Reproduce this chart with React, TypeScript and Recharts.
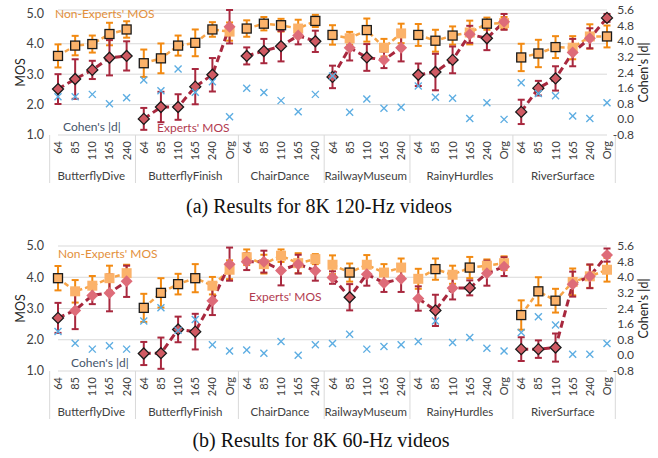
import { ComposedChart, Line, Scatter, ErrorBar, XAxis, YAxis, CartesianGrid } from 'recharts'

const GROUPS = ['ButterflyDive', 'ButterflyFinish', 'ChairDance', 'RailwayMuseum', 'RainyHurdles', 'RiverSurface']
const LEVELS = [
  ['64', '85', '110', '165', '240'],
  ['64', '85', '110', '165', '240', 'Org'],
  ['64', '85', '110', '165', '240'],
  ['64', '85', '110', '165', '240'],
  ['64', '85', '110', '165', '240', 'Org'],
  ['64', '85', '110', '165', '240', 'Org'],
]
const MOS_TICKS = [1, 2, 3, 4, 5]
const D_TICKS = [-0.8, 0, 0.8, 1.6, 2.4, 3.2, 4.0, 4.8, 5.6]

// 8K 120-Hz
const NE_120 = [3.60, 3.94, 3.99, 4.32, 4.47, 3.36, 3.52, 3.94, 4.03, 4.47, 4.40, 4.50, 4.66, 4.61, 4.50, 4.75, 4.29, 4.18, 4.45, 3.87, 4.34, 4.29, 4.10, 4.27, 4.37, 4.66, 4.68, 3.55, 3.68, 3.89, 3.87, 4.24, 4.24]
const NE_ERR_120 = [0.38, 0.32, 0.28, 0.37, 0.27, 0.45, 0.49, 0.33, 0.44, 0.24, 0.30, 0.27, 0.22, 0.21, 0.29, 0.20, 0.32, 0.21, 0.38, 0.29, 0.32, 0.36, 0.36, 0.30, 0.39, 0.20, 0.20, 0.45, 0.45, 0.36, 0.38, 0.40, 0.36]
const EX_120 = [2.51, 2.84, 3.14, 3.54, 3.60, 1.53, 1.92, 1.92, 2.59, 2.98, 4.56, 3.60, 3.76, 3.92, 4.27, 4.08, 2.91, 3.87, 3.55, 3.47, 3.87, 2.98, 3.07, 3.47, 4.31, 4.18, 4.72, 1.76, 2.54, 2.86, 3.71, 4.18, 4.85]
const EX_ERR_120 = [0.49, 0.65, 0.30, 0.58, 0.48, 0.36, 0.50, 0.42, 0.58, 0.55, 0.55, 0.28, 0.40, 0.50, 0.29, 0.35, 0.37, 0.42, 0.44, 0.27, 0.45, 0.37, 0.60, 0.44, 0.28, 0.39, 0.26, 0.40, 0.24, 0.40, 0.45, 0.33, 0.13]
const D_120 = [1.16, 1.16, 1.28, 0.80, 1.11, 2.02, 1.47, 2.58, 1.39, 1.93, 0.14, 1.59, 1.37, 0.96, 0.39, 1.28, 2.22, 0.36, 1.04, 0.57, 0.62, 1.71, 1.13, 1.08, 0.05, 0.85, 0.00, 1.88, 1.33, 1.21, 0.17, 0.05, 0.85]
const SIG_120 = [1, 1, 1, 1, 1, 1, 1, 1, 1, 1, 0, 1, 1, 1, 0, 1, 1, 0, 1, 0, 0, 1, 1, 1, 0, 1, 0, 1, 1, 1, 0, 0, 1]

// 8K 60-Hz
const NE_60 = [3.97, 3.55, 3.73, 3.97, 4.13, 3.02, 3.50, 3.78, 3.97, 3.73, 4.24, 4.64, 4.42, 4.69, 4.45, 4.58, 4.40, 4.15, 4.40, 4.15, 4.31, 3.95, 4.26, 4.08, 4.31, 4.37, 4.45, 2.79, 3.55, 3.25, 3.85, 4.03, 4.24]
const NE_ERR_60 = [0.39, 0.36, 0.31, 0.40, 0.27, 0.45, 0.47, 0.33, 0.45, 0.28, 0.30, 0.25, 0.30, 0.20, 0.32, 0.16, 0.30, 0.29, 0.31, 0.27, 0.29, 0.32, 0.34, 0.29, 0.34, 0.20, 0.22, 0.47, 0.45, 0.38, 0.43, 0.37, 0.38]
const EX_60 = [2.70, 2.94, 3.42, 3.50, 3.87, 1.56, 1.57, 2.33, 2.26, 3.25, 4.42, 4.50, 4.50, 4.22, 4.42, 4.21, 3.99, 3.36, 4.10, 3.82, 3.95, 3.32, 2.94, 3.66, 3.66, 4.13, 4.34, 1.70, 1.70, 1.75, 3.78, 4.03, 4.71]
const EX_ERR_60 = [0.48, 0.60, 0.28, 0.59, 0.50, 0.37, 0.50, 0.41, 0.57, 0.46, 0.53, 0.27, 0.35, 0.48, 0.30, 0.32, 0.20, 0.42, 0.37, 0.29, 0.42, 0.39, 0.50, 0.37, 0.24, 0.40, 0.30, 0.38, 0.28, 0.45, 0.40, 0.38, 0.21]
const D_60 = [1.22, 0.62, 0.32, 0.49, 0.32, 1.76, 2.44, 1.28, 1.84, 0.54, 0.23, 0.27, 0.11, 0.71, 0.01, 0.54, 0.61, 1.08, 0.32, 0.45, 0.54, 0.71, 1.76, 0.66, 0.91, 0.37, 0.23, 1.17, 1.98, 1.55, 0.06, 0.06, 0.61]
const SIG_60 = [1, 0, 0, 0, 0, 1, 1, 1, 1, 0, 0, 0, 0, 0, 0, 0, 0, 1, 0, 0, 0, 0, 1, 0, 1, 0, 0, 1, 1, 1, 0, 0, 0]

const FONT = 'Lato, "Noto Sans", sans-serif'
const W = 658
const H = 186
const Y_LEFT_W = 58
const Y_RIGHT_W = 51
const AXIS_H = 48

const ORANGE_LINE = '#F7A447'
const ORANGE_ERR = '#F28A12'
const SQUARE = '#FBB26A'
const RED_LINE = '#A8283E'
const DIAMOND = '#D05A63'
const DIAMOND_LIGHT = '#DE6C79'
const BLUE = '#5DADE2'

const CATS = GROUPS.flatMap((g, gi) =>
  LEVELS[gi].map((lv, li) => ({ id: `${g}-${lv}`, level: lv, group: gi, pos: li, size: LEVELS[gi].length }))
)
const CAT_BY_ID = new Map(CATS.map(c => [c.id, c]))
const BAND = (W - Y_LEFT_W - Y_RIGHT_W) / CATS.length

function buildRows(ne: number[], neErr: number[], ex: number[], exErr: number[], d: number[], sig: number[]) {
  return CATS.map((c, i) => {
    const row: Record<string, string | number | null> = {
      id: c.id, ne: ne[i], neErr: neErr[i], ex: ex[i], exErr: exErr[i], d: d[i], sig: sig[i],
    }
    // separate keys per group so the dashed lines break between groups
    GROUPS.forEach((_, gi) => {
      row[`ne${gi}`] = c.group === gi ? ne[i] : null
      row[`ex${gi}`] = c.group === gi ? ex[i] : null
    })
    return row
  })
}

const CatTick = (p: any) => {
  const { x, y, payload } = p
  const c = CAT_BY_ID.get(payload.value)
  if (!c) return null
  const left = x - BAND / 2
  const center = x + ((c.size - 1) / 2 - c.pos) * BAND
  const last = c.group === GROUPS.length - 1 && c.pos === c.size - 1
  return (
    <g>
      <text
        x={x + 4}
        y={y + 6}
        transform={`rotate(-90 ${x + 4} ${y + 6})`}
        textAnchor="end"
        fontSize={11}
        fontFamily={FONT}
        fill="#404040"
      >
        {c.level}
      </text>
      {c.pos === 0 && <line x1={left} x2={left} y1={y} y2={y + AXIS_H} stroke="#D9D9D9" />}
      {last && <line x1={x + BAND / 2} x2={x + BAND / 2} y1={y} y2={y + AXIS_H} stroke="#D9D9D9" />}
      {c.pos === 0 && (
        <text x={center} y={y + 45} textAnchor="middle" fontSize={11.5} fontFamily={FONT} fill="#404040">
          {GROUPS[c.group]}
        </text>
      )}
    </g>
  )
}

const RightTick = (p: any) => (
  <text x={p.x + 27} y={p.y + 4} textAnchor="end" fontSize={12} fontFamily={FONT} fill="#404040">
    {Number(p.payload.value).toFixed(1)}
  </text>
)

const SquareMark = (p: any) => {
  const { cx, cy, payload } = p
  const s = payload.sig ? 9 : 10
  return (
    <rect
      x={cx - s / 2}
      y={cy - s / 2}
      width={s}
      height={s}
      fill={SQUARE}
      stroke={payload.sig ? '#1a1a1a' : 'none'}
      strokeWidth={1.3}
    />
  )
}

const DiamondMark = (p: any) => {
  const { cx, cy, payload } = p
  const r = payload.sig ? 5.5 : 6
  return (
    <polygon
      points={`${cx},${cy - r} ${cx + r},${cy} ${cx},${cy + r} ${cx - r},${cy}`}
      fill={payload.sig ? DIAMOND : DIAMOND_LIGHT}
      stroke={payload.sig ? '#1a1a1a' : 'none'}
      strokeWidth={1.3}
    />
  )
}

const CrossMark = (p: any) => {
  const { cx, cy } = p
  const r = 3.5
  return (
    <g stroke={BLUE} strokeWidth={1.4}>
      <line x1={cx - r} y1={cy - r} x2={cx + r} y2={cy + r} />
      <line x1={cx - r} y1={cy + r} x2={cx + r} y2={cy - r} />
    </g>
  )
}

const AxisTitle = ({ vb, dx, text }: any) => {
  if (!vb) return null
  const x = vb.x + dx
  const y = vb.y + vb.height / 2
  return (
    <text x={x} y={y} transform={`rotate(-90 ${x} ${y})`} textAnchor="middle" fontSize={12.5} fontFamily={FONT} fill="#262626">
      {text}
    </text>
  )
}

function MosChart({ rows }: { rows: Record<string, string | number | null>[] }) {
  return (
    <ComposedChart width={W} height={H} data={rows} margin={{ top: 10, right: 0, bottom: 3, left: 0 }}>
      <CartesianGrid vertical={false} stroke="#D9D9D9" yAxisId="left" />
      <XAxis
        dataKey="id"
        type="category"
        interval={0}
        height={AXIS_H}
        axisLine={false}
        tickLine={false}
        tickSize={0}
        tickMargin={0}
        tick={<CatTick />}
      />
      <YAxis
        yAxisId="left"
        width={Y_LEFT_W}
        domain={[1, 5]}
        ticks={MOS_TICKS}
        interval={0}
        tickFormatter={(v: number) => v.toFixed(1)}
        axisLine={false}
        tickLine={false}
        tickSize={0}
        tickMargin={14}
        tick={{ fontSize: 12.5, fill: '#404040', fontFamily: FONT }}
        label={(lp: any) => <AxisTitle vb={lp.viewBox} dx={25} text="MOS" />}
      />
      <YAxis
        yAxisId="right"
        orientation="right"
        width={Y_RIGHT_W}
        domain={[-0.8, 5.6]}
        ticks={D_TICKS}
        interval={0}
        axisLine={false}
        tickLine={false}
        tickSize={0}
        tickMargin={0}
        tick={<RightTick />}
        label={(lp: any) => <AxisTitle vb={lp.viewBox} dx={41} text="Cohen's |d|" />}
      />
      {GROUPS.map((_, gi) => (
        <Line
          key={`ne${gi}`}
          yAxisId="left"
          dataKey={`ne${gi}`}
          stroke={ORANGE_LINE}
          strokeWidth={2.5}
          strokeDasharray="5 3"
          dot={false}
          activeDot={false}
          connectNulls={false}
          isAnimationActive={false}
        />
      ))}
      {GROUPS.map((_, gi) => (
        <Line
          key={`ex${gi}`}
          yAxisId="left"
          dataKey={`ex${gi}`}
          stroke={RED_LINE}
          strokeWidth={3}
          strokeDasharray="7 4"
          dot={false}
          activeDot={false}
          connectNulls={false}
          isAnimationActive={false}
        />
      ))}
      <Scatter yAxisId="left" dataKey="ne" shape={<SquareMark />} isAnimationActive={false}>
        <ErrorBar dataKey="neErr" direction="y" width={3.5} stroke={ORANGE_ERR} strokeWidth={2} isAnimationActive={false} />
      </Scatter>
      <Scatter yAxisId="left" dataKey="ex" shape={<DiamondMark />} isAnimationActive={false}>
        <ErrorBar dataKey="exErr" direction="y" width={3.5} stroke={RED_LINE} strokeWidth={2} isAnimationActive={false} />
      </Scatter>
      <Scatter yAxisId="right" dataKey="d" shape={<CrossMark />} isAnimationActive={false} />
    </ComposedChart>
  )
}

const ROWS_120 = buildRows(NE_120, NE_ERR_120, EX_120, EX_ERR_120, D_120, SIG_120)
const ROWS_60 = buildRows(NE_60, NE_ERR_60, EX_60, EX_ERR_60, D_60, SIG_60)

export default function App() {
  return (
    <div style={{ position: 'absolute', left: 0, top: 0, width: W, height: 458, background: '#fff' }}>
      <div style={{ position: 'absolute', left: 0, top: 0 }}>
        <MosChart rows={ROWS_120} />
      </div>
      <div style={{ position: 'absolute', left: 0, top: 236 }}>
        <MosChart rows={ROWS_60} />
      </div>
      <svg width={W} height={458} style={{ position: 'absolute', left: 0, top: 0, pointerEvents: 'none' }}>
        <g fontFamily={FONT} fontSize={12}>
          <text x={55} y={18} fill="#E3903C">Non-Experts' MOS</text>
          <text x={157} y={132} fill="#B23B50">Experts' MOS</text>
          <text x={63} y={131} fill="#44546A">Cohen's |d|</text>
          <text x={58} y={258} fill="#E3903C">Non-Experts' MOS</text>
          <text x={249} y={301} fill="#B23B50">Experts' MOS</text>
          <text x={71} y={367} fill="#44546A">Cohen's |d|</text>
        </g>
        <g fontFamily='"Liberation Serif", "Times New Roman", serif' fontSize={20} fill="#111" textAnchor="middle">
          <text x={319} y={213}>(a) Results for 8K 120-Hz videos</text>
          <text x={321} y={447}>(b) Results for 8K 60-Hz videos</text>
        </g>
      </svg>
    </div>
  )
}
